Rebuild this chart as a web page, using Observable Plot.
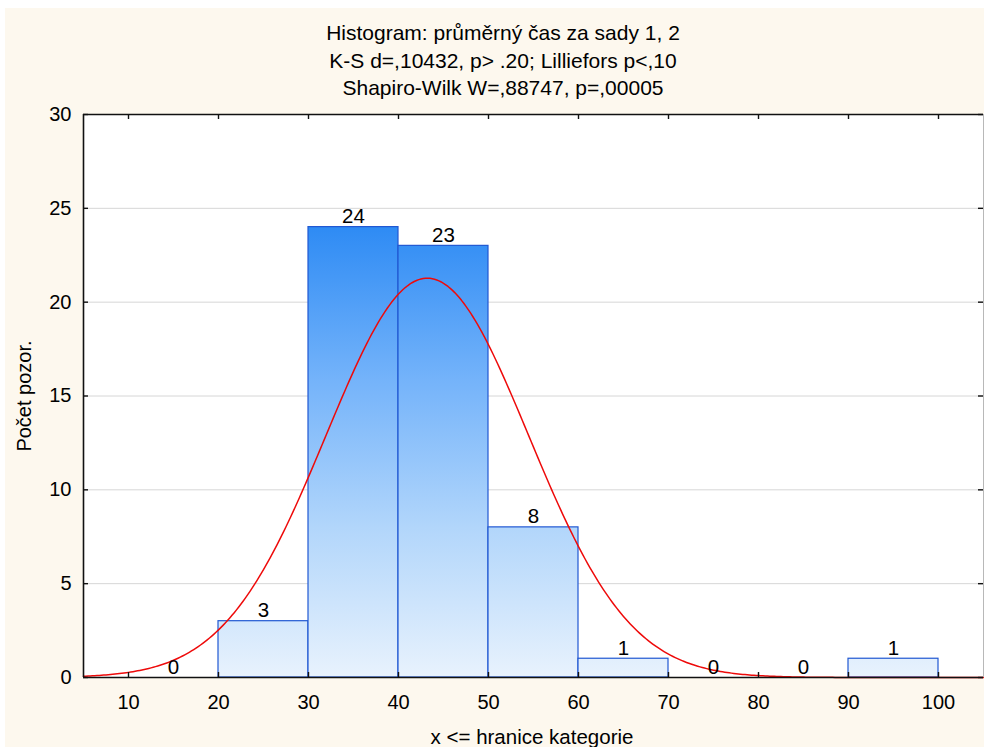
<!DOCTYPE html>
<html>
<head>
<meta charset="utf-8">
<script src="https://cdn.jsdelivr.net/npm/d3@7"></script>
<script src="https://cdn.jsdelivr.net/npm/@observablehq/plot@0.6"></script>
<style>
  body { margin: 0; background: #ffffff; }
  #wrap { position: relative; width: 984px; height: 747px; overflow: hidden; font-family: "Liberation Sans", Arial, sans-serif; color: #000; }
  #panel { position: absolute; left: 5px; top: 8px; right: 0; bottom: 0; background: #fdf8ee; }
  #chart { position: absolute; left: 0; top: 0; }
  #title { position: absolute; left: 0; top: 19px; width: 1006px; text-align: center; font-size: 21px; line-height: 27.5px; }
  #ylab { position: absolute; left: -126px; top: 384px; width: 300px; height: 24px; line-height: 24px; text-align: center; font-size: 20px; transform: rotate(-90deg); }
  #xlab { position: absolute; left: 332px; top: 725px; width: 400px; height: 24px; line-height: 24px; text-align: center; font-size: 20.5px; }
</style>
</head>
<body>
<div id="wrap">
  <div id="panel"></div>
  <div id="chart"></div>
  <div id="title"></div>
  <div id="ylab"></div>
  <div id="xlab"></div>
</div>
<script>
// ---- data ----
const titleLines = [
  "Histogram: průměrný čas za sady 1, 2",
  "K-S d=,10432, p> .20; Lilliefors p<,10",
  "Shapiro-Wilk W=,88747, p=,00005"
];
const xLabel = "x <= hranice kategorie";
const yLabel = "Počet pozor.";
const binLower = [10, 20, 30, 40, 50, 60, 70, 80, 90];
const binUpper = [20, 30, 40, 50, 60, 70, 80, 90, 100];
const counts   = [0, 3, 24, 23, 8, 1, 0, 0, 1];
const xTicks = [10, 20, 30, 40, 50, 60, 70, 80, 90, 100];
const yTicks = [0, 5, 10, 15, 20, 25, 30];
// fitted normal curve parameters (estimated from the red curve)
const fitMean = 43.2;
const fitSd = 11.25;
const nObs = 60;
const binWidth = 10;

// ---- build tables ----
const bins = binLower.map((lo, i) => ({lo, hi: binUpper[i], mid: (lo + binUpper[i]) / 2, count: counts[i]}));
const curve = [];
for (let x = 5; x <= 105.0001; x += 0.25) {
  const z = (x - fitMean) / fitSd;
  curve.push({x, y: nObs * binWidth / (fitSd * Math.sqrt(2 * Math.PI)) * Math.exp(-0.5 * z * z)});
}

document.getElementById("title").innerHTML = titleLines.map(t => `<div>${t}</div>`).join("");
document.getElementById("ylab").textContent = yLabel;
document.getElementById("xlab").textContent = xLabel;

const W = 984, H = 747, mL = 83, mR = 1, mT = 114, mB = 70;
const innerW = W - mL - mR, innerH = H - mT - mB;
const tick = 5;

const plot = Plot.plot({
  width: W, height: H,
  marginLeft: mL, marginRight: mR, marginTop: mT, marginBottom: mB,
  x: {domain: [5, 105]},
  y: {domain: [0, 30]},
  style: {fontFamily: "'Liberation Sans', Arial, sans-serif", fontSize: "20px", background: "transparent", color: "#000", overflow: "visible"},
  marks: [
    Plot.frame({fill: "#ffffff", stroke: null}),
    Plot.ruleY(yTicks.filter(d => d > 0 && d < 30), {y: d => d, stroke: "#d6d6d6", strokeWidth: 1}),
    Plot.rectY(bins.filter(d => d.count > 0), {x1: "lo", x2: "hi", y1: 0, y2: "count", fill: "url(#barGrad)", stroke: "#2158d2", strokeWidth: 1.2}),
    Plot.line(curve, {x: "x", y: "y", stroke: "#ee0a0a", strokeWidth: 1.5}),
    Plot.text(bins, {x: "mid", y: "count", text: d => String(d.count), lineAnchor: "bottom", dy: -4, fontSize: 20.5, fill: "#000"}),
    Plot.axisX({ticks: xTicks, tickSize: 0, tickPadding: 17, label: null, tickFormat: d => String(d)}),
    Plot.axisY({ticks: yTicks, tickSize: 0, tickPadding: 12, label: null, tickFormat: d => String(d)}),
    Plot.ruleX([5], {x: d => d, stroke: "#111", strokeWidth: 1.6}),
    Plot.ruleX([105], {x: d => d, stroke: "#b8b8b8", strokeWidth: 1}),
    Plot.ruleY([0], {y: d => d, stroke: "#111", strokeWidth: 1.6}),
    Plot.ruleY([30], {y: d => d, stroke: "#111", strokeWidth: 1.6}),
    Plot.tickX(xTicks, {x: d => d, insetTop: innerH - tick, stroke: "#111", strokeWidth: 1.4}),
    Plot.tickX(xTicks, {x: d => d, insetBottom: innerH - tick, stroke: "#111", strokeWidth: 1.4}),
    Plot.tickY(yTicks, {y: d => d, insetRight: innerW - tick, stroke: "#111", strokeWidth: 1.4}),
    Plot.tickY(yTicks, {y: d => d, insetLeft: innerW - tick, stroke: "#111", strokeWidth: 1.4})
  ]
});

// vertical gradient in absolute (value) space: light at 0, deep blue at 24
const ys = plot.scale("y");
const ns = "http://www.w3.org/2000/svg";
const defs = document.createElementNS(ns, "defs");
const grad = document.createElementNS(ns, "linearGradient");
grad.setAttribute("id", "barGrad");
grad.setAttribute("gradientUnits", "userSpaceOnUse");
grad.setAttribute("x1", "0"); grad.setAttribute("x2", "0");
grad.setAttribute("y1", String(ys.apply(0)));
grad.setAttribute("y2", String(ys.apply(24)));
[[0, "#e8f2fd"], [0.33, "#b2d6fb"], [0.66, "#74b3fa"], [1, "#2e8bf4"]].forEach(([o, c]) => {
  const s = document.createElementNS(ns, "stop");
  s.setAttribute("offset", String(o));
  s.setAttribute("stop-color", c);
  grad.appendChild(s);
});
defs.appendChild(grad);
plot.insertBefore(defs, plot.firstChild);

document.getElementById("chart").appendChild(plot);
</script>
</body>
</html>
